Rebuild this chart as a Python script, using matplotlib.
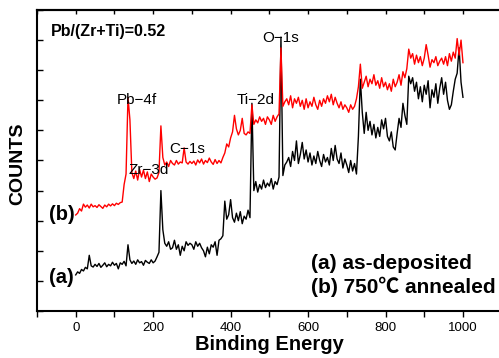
import numpy as np
import matplotlib
matplotlib.use('Agg')
import matplotlib.pyplot as plt

plt.rcParams['font.family'] = ['Liberation Sans', 'Noto Sans CJK SC', 'DejaVu Sans']

# binding energy grid (eV), 5 eV steps
energy = np.arange(0, 1001, 5)

# (a) as-deposited
counts_a = [
    1.20, 1.30, 1.25, 1.38, 1.33, 1.45, 1.40, 1.85, 1.50, 1.46,
    1.55, 1.48, 1.58, 1.45, 1.52, 1.60, 1.47, 1.55, 1.50, 1.62,
    1.52, 1.58, 1.40, 1.60, 1.55, 1.65, 1.50, 2.20, 1.70, 1.58,
    1.66, 1.55, 1.70, 1.60, 1.64, 1.52, 1.68, 1.62, 1.58, 1.70,
    1.60, 1.66, 1.80, 1.95, 4.00, 2.70, 2.25, 2.15, 2.30, 2.05,
    2.10, 2.35, 2.05, 2.20, 1.85, 2.15, 2.00, 2.30, 2.18, 2.25,
    2.20, 2.05, 2.30, 2.15, 2.25, 2.10, 2.00, 1.80, 2.12, 1.90,
    2.20, 2.12, 2.30, 1.85, 2.35, 2.40, 2.50, 3.65, 3.05, 3.20,
    3.70, 3.10, 2.95, 3.25, 3.00, 3.30, 2.90, 3.15, 3.05, 3.35,
    3.10, 6.90, 4.00, 4.30, 3.95, 4.20, 4.05, 4.35, 4.10, 4.25,
    4.15, 4.40, 4.05, 4.30, 4.20, 4.45, 9.10, 4.50, 4.85, 4.95,
    5.10, 4.80, 5.30, 5.00, 5.65, 4.90, 5.20, 5.60, 5.05, 5.35,
    4.95, 5.25, 4.85, 5.15, 4.90, 5.30, 5.00, 4.80, 5.20, 4.95,
    5.10, 4.85, 5.40, 5.00, 5.50, 5.05, 4.90, 5.25, 4.75, 5.05,
    4.85, 4.60, 5.00, 4.65, 4.90, 4.55, 5.80, 7.70, 6.60, 5.90,
    6.60, 6.00, 6.30, 5.85, 6.20, 5.75, 6.10, 5.80, 6.35, 6.05,
    6.40, 5.80, 5.65, 5.95, 5.45, 5.35, 5.90, 6.40, 6.10, 6.90,
    6.50, 6.20, 7.80, 7.55, 7.75, 7.30, 7.60, 7.05, 7.45, 6.95,
    7.50, 7.20, 7.65, 6.75, 7.35, 7.10, 7.55, 6.90, 7.40, 7.75,
    7.20, 7.60, 7.00, 6.70, 6.85, 7.30, 7.70, 7.90, 8.75, 7.60,
    7.10,
]

# (b) 750 C annealed
counts_b = [
    3.19, 3.25, 3.40, 3.32, 3.55, 3.45, 3.52, 3.42, 3.55, 3.46,
    3.50, 3.44, 3.53, 3.47, 3.41, 3.52, 3.46, 3.55, 3.49, 3.56,
    3.50, 3.58, 3.54, 3.60, 3.62, 4.20, 4.55, 7.10, 6.35, 4.60,
    4.40, 4.65, 4.35, 4.70, 4.45, 4.68, 4.40, 4.62, 4.30, 4.55,
    4.45, 4.38, 4.42, 4.60, 6.15, 5.10, 4.85, 4.95, 4.80, 5.00,
    4.90, 4.85, 5.00, 4.88, 4.95, 4.92, 5.42, 4.95, 4.88, 4.97,
    4.90, 4.98, 4.85, 5.02, 4.92, 5.05, 4.88, 5.00, 4.93, 5.08,
    4.95, 4.87, 5.03, 4.90, 5.00, 4.92, 5.10, 5.25, 5.55, 5.45,
    5.75, 5.95, 6.50, 6.05, 5.85, 6.00, 6.40, 5.90, 5.85, 5.95,
    5.90, 6.85, 6.20, 6.35, 6.25, 6.45, 6.30, 6.40, 6.20, 6.45,
    6.35, 6.20, 6.50, 6.30, 6.45, 6.55, 8.74, 6.80, 6.95, 7.05,
    6.85, 7.15, 6.75, 7.05, 6.90, 7.10, 6.80, 7.00, 6.70, 7.05,
    6.75, 6.95, 6.80, 7.10, 6.85, 6.70, 7.00, 6.80, 7.05, 6.90,
    7.15, 6.95, 7.20, 6.85, 7.10, 6.90, 6.75, 6.95, 6.70, 6.85,
    6.75, 6.60, 6.85, 6.70, 6.80, 7.05, 7.45, 8.20, 7.40, 7.60,
    7.80, 7.45, 7.70, 7.55, 7.85, 7.50, 7.65, 7.40, 7.75, 7.45,
    7.60, 7.35, 7.55, 7.30, 7.70, 7.45, 7.60, 7.85, 7.50, 7.95,
    7.75, 8.05, 8.70, 8.40, 8.55, 8.20, 8.50, 8.25, 8.45, 8.15,
    8.40, 8.85, 8.50, 8.10, 8.35, 8.25, 8.45, 8.15, 8.30, 8.40,
    8.20, 8.45, 8.15, 8.55, 8.30, 8.60, 8.40, 9.05, 8.50, 9.00,
    8.25,
]

peak_labels = ['Pb−4f', 'Zr−3d', 'C−1s', 'Ti−2d', 'O−1s']
peak_pos = [(158, 7.0), (189, 4.68), (288, 5.38), (465, 7.0), (528, 9.07)]

fig = plt.figure(figsize=(4.99, 3.58), dpi=100)
ax = fig.add_axes([0.0741, 0.1313, 0.9313, 0.8408])

ax.plot(energy, counts_a, color='black', lw=1.0)
ax.plot(energy, counts_b, color='red', lw=1.0)

ax.set_xlim(-100, 1100)
ax.set_ylim(0, 10)
ax.set_xticks(np.arange(-100, 1101, 100))
ax.set_xticklabels(['' if v % 200 else str(v) for v in range(-100, 1101, 100)])
ax.set_yticks(np.arange(0, 11, 1))
ax.set_yticklabels([])

ax.tick_params(axis='x', which='both', direction='out', length=4, width=1,
               labelsize=9.5, pad=4, top=False)
ax.tick_params(axis='y', direction='in', length=4, width=1)
for side in ['left', 'bottom', 'top', 'right']:
    ax.spines[side].set_linewidth(1.5)

# top inward ticks
sec = ax.secondary_xaxis('top')
sec.set_xticks(np.arange(-100, 1101, 100))
sec.set_xticklabels([])
sec.tick_params(direction='in', length=3, width=1)
sec.spines['top'].set_linewidth(1.5)

ax.set_xlabel('Binding Energy', fontsize=14.5, fontweight='bold', labelpad=1)
fig.text(0.036, 0.543, 'COUNTS', rotation=90, fontsize=14, fontweight='bold',
         ha='center', va='center')

for lab, (x, y) in zip(peak_labels, peak_pos):
    ax.text(x, y, lab, fontsize=11, ha='center', va='center')

ax.text(-65, 9.27, 'Pb/(Zr+Ti)=0.52', fontsize=11.5, fontweight='bold', va='center')
ax.text(-68, 3.19, '(b)', fontsize=14.5, fontweight='bold', va='center')
ax.text(-68, 1.1, '(a)', fontsize=14.5, fontweight='bold', va='center')
ax.text(608, 1.59, '(a) as-deposited', fontsize=15, fontweight='bold', va='center')
ax.text(608, 0.80, '(b) 750℃ annealed', fontsize=15, fontweight='bold', va='center')

fig.savefig('out.png', dpi=100)
